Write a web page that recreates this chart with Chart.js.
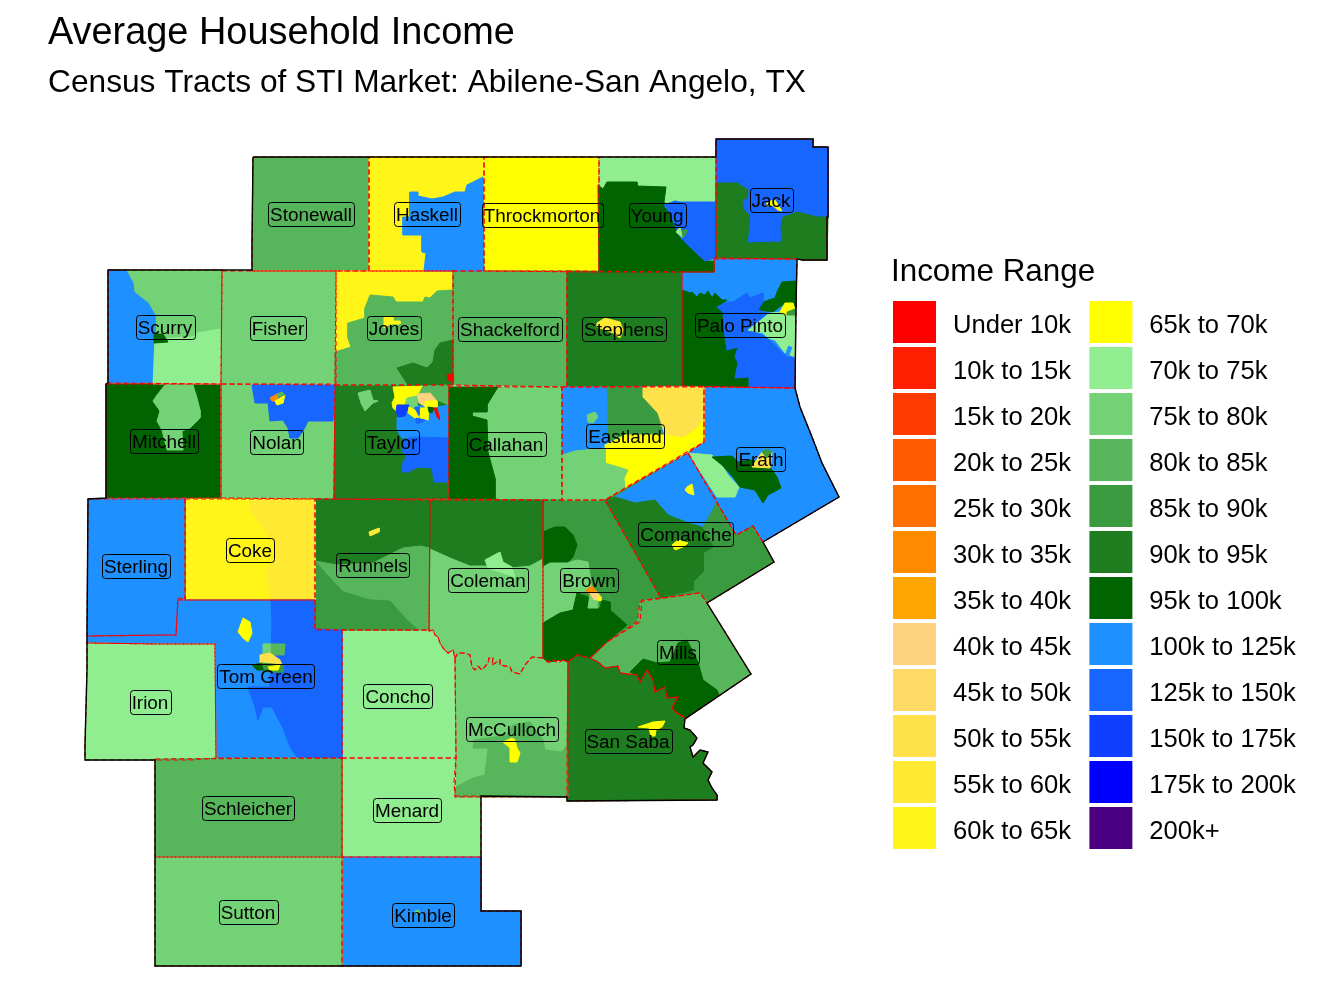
<!DOCTYPE html>
<html>
<head>
<meta charset="utf-8">
<title>Average Household Income</title>
<script src="https://cdn.jsdelivr.net/npm/chart.js@4"></script>
<style>
  html, body { margin: 0; background: #fff; }
  #wrap { position: relative; width: 1344px; height: 1008px; overflow: hidden; }
  #map { position: absolute; left: 0; top: 0; }
  #key { position: absolute; left: 891px; top: 250px; }
</style>
</head>
<body>
<div id="wrap">
  <canvas id="map" width="1344" height="1008"></canvas>
  <canvas id="key" width="900" height="611"></canvas>
</div>
<script>
// Income bands and their colours
const bands = ['Under 10k','10k to 15k','15k to 20k','20k to 25k','25k to 30k','30k to 35k','35k to 40k','40k to 45k','45k to 50k','50k to 55k','55k to 60k','60k to 65k','65k to 70k','70k to 75k','75k to 80k','80k to 85k','85k to 90k','90k to 95k','95k to 100k','100k to 125k','125k to 150k','150k to 175k','175k to 200k','200k+'];
const bandColors = ['#FF0000','#FF2000','#FF3A00','#FF5A00','#FF7000','#FF8A00','#FFA500','#FFD27F','#FFD966','#FFE14C','#FFE933','#FFF519','#FFFF00','#90EE90','#73D275','#57B65B','#3A9A40','#1E7D1E','#006400','#1E90FF','#1766FF','#0F40FF','#0000FF','#4B0082'];

// County labels, map units
const countyNames = ['Stonewall','Haskell','Throckmorton','Young','Jack','Scurry','Fisher','Jones','Shackelford','Stephens','Palo Pinto','Mitchell','Nolan','Taylor','Callahan','Eastland','Erath','Comanche','Sterling','Coke','Runnels','Coleman','Brown','Tom Green','Irion','Concho','McCulloch','Mills','San Saba','Schleicher','Menard','Sutton','Kimble'];
const labelX = [311,427,542,657,771,165,278,394,510,624,740,164,277,392,506,625,761,686,136,250,373,488,589,266,150,398,512,678,628,248,407,248,423];
const labelY = [214,214,215,215,200,327,328,328,329,329,325,441,442,442,444,436,459,534,566,550,565,580,580,676,702,696,729,652,741,808,810,912,915];

// shared wiggly river edges
const conchoEdge = [429,631,433,630,435,635,438,637,440,643,443,648,448,653,453,650,455,658];
const mccullochEdge = [455,658,458,653,465,653,470,655,472,667,475,670,478,666,482,670,488,663,489,658,493,658,492,665,500,660,500,665,510,667,512,672,520,674,525,665,532,657,543,658];
const sabaEdge = [590,658,598,662,605,668,618,666,620,673,637,675,640,682,647,670,653,680,655,692,665,687,667,698,678,697,672,708,677,713,684,717];

function backwards(flat){
  const out = [];
  for(let i = flat.length - 2; i >= 0; i -= 2) out.push(flat[i], flat[i+1]);
  return out;
}

// Tract shapes per county: first one is the county itself, the rest sit on top
const stonewallTracts = [['80k to 85k',[253,157,369,157,369,271,252,271,252,244]]];
const haskellTracts = [
  ['60k to 65k',[369,157,484,157,484,271,369,271]],
  ['100k to 125k',[483,177,467,185,465,192,455,192,443,197,432,199,418,196,418,192,410,192,410,217,403,217,403,235,422,235,422,252,426,253,424,271,484,271]]
];
const throckmortonTracts = [['65k to 70k',[484,157,599,157,599,272,484,271]]];
const youngTracts = [
  ['70k to 75k',[599,157,716,157,716,258,714,258,714,272,599,272]],
  ['95k to 100k',[598,185,603,189,607,182,637,182,637,186,666,187,664,202,664,207,670,213,676,228,681,238,690,247,705,261,714,261,714,272,599,272]],
  ['125k to 150k',[664,205,675,201,680,202,716,202,716,258,705,261,690,247,681,238,676,228,670,213]],
  ['70k to 75k',[676,232,680,227,683,238]],
  ['85k to 90k',[682,230,688,230,683,238]]
];
const jackTracts = [
  ['125k to 150k',[716,139,813,139,813,147,828,147,828,217,827,217,827,260,803,260,797,259,716,258]],
  ['90k to 95k',[716,183,737,183,748,190,747,198,742,200,744,210,749,215,749,227,747,243,782,242,781,227,783,217,798,212,817,217,828,217,827,260,803,260,797,259,716,258]],
  ['65k to 70k',[767,202,775,200,782,211,778,210,772,205,767,206]]
];
const scurryTracts = [
  ['75k to 80k',[108,270,222,270,221,384,108,383]],
  ['100k to 125k',[108,270,126,270,133,283,134,292,148,303,155,315,155,338,153,357,153,383,108,383]],
  ['70k to 75k',[155,339,193,337,197,333,220,329,221,384,153,384]],
  ['95k to 100k',[154,334,163,334,168,342,154,343]]
];
const fisherTracts = [['75k to 80k',[222,271,336,271,336,384,221,384]]];
const jonesTracts = [
  ['60k to 65k',[336,271,453,271,453,385,335,385]],
  ['80k to 85k',[453,290,437,291,430,298,425,297,423,302,396,302,393,297,370,295,365,308,365,318,348,323,348,338,351,347,335,352,335,385,453,385]],
  ['90k to 95k',[453,340,440,343,435,350,433,362,427,368,413,363,397,368,408,385,453,385]],
  ['Under 10k',[447,374,453,375,453,381,448,380]],
  ['60k to 65k',[384,317,393,317,393,321,400,321,400,324,390,324,384,328]]
];
const shackelfordTracts = [['80k to 85k',[453,271,567,271,567,387,453,385]]];
const stephensTracts = [
  ['90k to 95k',[567,271,682,272,682,386,567,387]],
  ['55k to 60k',[597,323,605,318,620,322,623,330,620,338,613,333,597,327]]
];
const paloPintoTracts = [
  ['100k to 125k',[714,259,797,259,796,307,795,388,682,386,682,272,714,272]],
  ['95k to 100k',[682,290,690,293,692,292,697,297,700,293,705,295,708,291,712,298,715,293,722,300,727,300,717,307,723,312,725,337,727,350,738,347,735,357,738,363,735,378,749,377,749,387,682,386]],
  ['95k to 100k',[796,281,782,282,777,292,775,298,763,302,758,310,773,312,782,305,796,307]],
  ['125k to 150k',[717,307,727,302,733,302,747,293,750,298,763,293,763,302,758,310,767,313,750,330,767,338,787,357,794,357,795,388,749,387,749,377,735,378,738,363,735,357,738,347,727,350,725,337,723,312]],
  ['70k to 75k',[748,330,770,313,782,312,795,313,795,357,790,355,793,347,788,345,785,353,775,340,768,338,763,333]],
  ['65k to 70k',[780,312,785,303,793,303,795,310,787,312,787,315]],
  ['85k to 90k',[787,312,795,309,795,315,787,315]]
];
const mitchellTracts = [
  ['95k to 100k',[106,384,221,384,221,498,106,498]],
  ['75k to 80k',[165,385,193,385,197,398,200,410,200,418,190,428,182,431,183,450,167,450,162,430,157,421,160,411,153,401,157,395]]
];
const nolanTracts = [
  ['75k to 80k',[221,384,335,385,334,499,221,498]],
  ['125k to 150k',[252,385,335,385,333,421,308,421,303,431,298,438,290,438,288,428,283,420,270,421,268,403,255,403]],
  ['30k to 35k',[270,398,277,394,278,401,272,401]],
  ['65k to 70k',[275,401,285,395,283,403,277,405]],
  ['80k to 85k',[277,394,282,392,285,395,278,397]]
];
const taylorTracts = [
  ['90k to 95k',[335,385,449,385,449,499,334,499]],
  ['75k to 80k',[358,393,370,390,373,400,378,401,373,403,365,411,361,403]],
  ['100k to 125k',[408,405,437,407,449,405,449,438,415,437,402,438,397,430,397,418]],
  ['125k to 150k',[449,438,449,482,434,482,432,468,418,467,408,472,402,472,403,462,407,457,403,453,402,440,415,437]],
  ['80k to 85k',[422,386,449,385,449,405,437,400,430,393,417,394]],
  ['65k to 70k',[393,387,422,386,417,396,410,398,407,405,398,404,397,412,393,408,392,403,395,397]],
  ['75k to 80k',[407,398,417,396,417,408,410,408,405,405]],
  ['40k to 45k',[417,394,430,393,437,401,428,401,427,407,419,403]],
  ['65k to 70k',[425,401,437,401,437,407,428,407,428,420,420,418,420,408,425,408]],
  ['150k to 175k',[397,405,409,405,405,416,398,417,396,411]],
  ['125k to 150k',[415,407,419,407,419,415,415,415]],
  ['65k to 70k',[409,407,415,410,419,418,415,418,408,413]],
  ['Under 10k',[434,408,437,408,440,420,437,417]],
  ['95k to 100k',[428,407,434,408,432,413,429,412]],
  ['125k to 150k',[416,418,425,420,420,423,416,423]]
];
const callahanTracts = [
  ['75k to 80k',[449,387,562,387,562,500,449,499]],
  ['95k to 100k',[449,387,498,387,493,395,487,405,487,412,472,412,472,416,487,420,488,452,495,478,495,499,449,499]]
];
const eastlandTracts = [
  ['100k to 125k',[562,387,704,387,704,442,625,488,605,500,562,500]],
  ['85k to 90k',[607,387,643,387,643,397,658,413,663,437,608,440,608,403]],
  ['50k to 55k',[643,387,704,387,704,420,695,430,683,438,665,435,658,413,643,397]],
  ['65k to 70k',[704,420,704,442,625,488,624,478,628,470,605,463,605,445,625,435,665,435,683,438,695,430]],
  ['75k to 80k',[562,455,575,451,605,448,605,463,628,470,624,478,625,488,605,500,562,500]],
  ['75k to 80k',[587,415,595,412,598,417,593,423,588,422]]
];
const erathTracts = [
  ['100k to 125k',[704,387,795,388,800,407,812,437,822,463,839,497,763,542,753,526,736,535,688,453,704,442]],
  ['70k to 75k',[688,453,712,455,722,465,728,475,739,487,735,497,717,497]],
  ['95k to 100k',[712,457,732,456,738,462,752,460,770,467,777,477,781,488,768,495,763,503,755,490,740,487,733,477,722,465]],
  ['50k to 55k',[752,467,762,452,772,452,770,468]],
  ['85k to 90k',[762,452,767,449,772,452,767,458]]
];
const comancheTracts = [
  ['85k to 90k',[688,453,736,535,753,526,763,542,774,562,707,603,700,593,661,598,605,500]],
  ['100k to 125k',[688,453,615,497,635,503,655,500,668,515,688,522,702,527,710,513,716,502]],
  ['90k to 95k',[605,500,615,497,635,503,655,500,668,515,688,523,702,527,713,547,703,553,703,572,693,582,693,590,661,598]],
  ['65k to 70k',[672,545,678,540,688,543,683,547,675,550]],
  ['65k to 70k',[687,487,692,484,694,495,688,493,685,490]]
];
const millsTracts = [
  ['80k to 85k',[640,602,642,601,700,593,707,603,751,674,685,719,...backwards(sabaEdge),607,642,637,622]],
  ['95k to 100k',[630,672,643,659,657,663,670,662,678,643,687,640,698,662,703,680,717,690,719,695,685,719,684,717,677,713,672,708,678,697,667,698,665,687,655,692,653,680,647,670,640,682,637,675]]
];
const sanSabaTracts = [
  ['90k to 95k',[568,662,577,655,...sabaEdge,684,728,690,730,697,738,693,745,690,747,693,757,700,750,708,752,703,763,712,772,708,780,712,788,717,795,717,800,567,801,567,768]],
  ['65k to 70k',[638,727,653,722,665,721,662,727,656,730,655,736,651,736,649,728]]
];
const brownTracts = [
  ['85k to 90k',[543,500,605,500,661,598,642,600,640,622,607,642,590,658,577,655,568,662,563,660,548,662,543,658]],
  ['95k to 100k',[543,532,555,527,565,527,573,535,577,545,573,557,567,563,558,563,550,563,543,567]],
  ['75k to 80k',[543,567,550,563,567,563,577,560,588,562,590,575,592,590,577,593,573,610,560,613,543,623]],
  ['95k to 100k',[543,623,560,613,573,610,577,593,588,597,588,608,600,608,602,600,610,602,610,610,627,625,607,642,590,658,577,655,568,662,563,660,548,662,543,658]],
  ['75k to 80k',[590,595,597,597,598,608,588,608]],
  ['30k to 35k',[586,590,592,586,597,592,590,595]],
  ['40k to 45k',[590,593,597,592,602,598,594,600]],
  ['65k to 70k',[597,595,602,600,598,601]]
];
const colemanTracts = [
  ['75k to 80k',[430,500,543,500,...backwards(mccullochEdge),...backwards(conchoEdge)]],
  ['90k to 95k',[430,500,543,500,543,558,530,565,510,567,485,565,470,565,450,557,430,548]],
  ['70k to 75k',[485,560,500,552,503,562,512,567,515,577,488,568]]
];
const runnelsTracts = [
  ['90k to 95k',[315,499,430,500,429,630,315,630]],
  ['80k to 85k',[315,561,337,565,373,563,403,548,420,546,430,548,429,630,315,630]],
  ['85k to 90k',[315,561,327,575,343,592,370,600,390,601,398,610,407,620,418,630,315,630]],
  ['55k to 60k',[369,532,379,528,379,532,370,536]]
];
const cokeTracts = [
  ['60k to 65k',[185,499,315,499,315,600,185,600]],
  ['55k to 60k',[250,499,315,499,315,600,271,600,267,573,277,550,263,527,250,510]]
];
const sterlingTracts = [['100k to 125k',[88,499,185,499,185,600,178,600,176,635,157,635,90,636,87,636]]];
const tomGreenTracts = [
  ['100k to 125k',[178,598,185,600,315,600,315,629,342,630,342,758,216,758,215,644,160,644,87,643,87,636,176,635]],
  ['125k to 150k',[271,600,315,600,315,629,342,630,342,758,297,757,290,747,283,728,272,707,263,707,258,720,255,707,248,687,270,687,272,623]],
  ['65k to 70k',[243,618,250,622,252,633,248,642,243,638,238,632]],
  ['80k to 85k',[263,644,285,644,284,655,270,655]],
  ['75k to 80k',[263,644,270,644,270,655,263,655]],
  ['50k to 55k',[260,655,270,653,280,660,282,665,260,663]],
  ['95k to 100k',[252,665,262,663,267,670,257,670]],
  ['85k to 90k',[262,663,283,665,283,672,265,672]],
  ['65k to 70k',[268,667,280,665,278,670,270,670]]
];
const irionTracts = [['70k to 75k',[87,643,160,644,215,644,216,758,190,760,125,760,85,760,85,745,87,670]]];
const conchoTracts = [['70k to 75k',[342,630,429,630,...conchoEdge,456,758,342,758]]];
const mccullochTracts = [
  ['75k to 80k',[...mccullochEdge,548,662,553,660,558,663,563,660,568,662,568,797,455,797,454,782,456,758]],
  ['80k to 85k',[456,787,473,778,485,775,487,757,488,748,473,748,474,740,507,735,513,725,530,722,543,740,545,750,562,752,567,745,568,797,455,797]],
  ['65k to 70k',[503,742,512,738,515,740,517,748,520,753,517,762,510,762,510,748]]
];
const menardTracts = [['70k to 75k',[342,758,456,758,455,796,481,796,481,857,342,857]]];
const kimbleTracts = [
  ['100k to 125k',[342,857,481,857,481,911,521,911,521,966,342,966]],
  ['75k to 80k',[415,911,418,910,420,913,416,914]]
];
const schleicherTracts = [['80k to 85k',[155,759,342,758,342,857,155,857]]];
const suttonTracts = [['75k to 80k',[155,857,342,857,342,966,155,966]]];

// Outer edge of the market
const marketEdge = [253,157,716,157,716,139,813,139,813,147,828,147,828,217,827,217,827,260,803,260,797,259,796,307,795,388,800,407,812,437,822,463,839,497,763,542,774,562,707,603,751,674,685,719,684,728,690,730,697,738,693,745,690,747,693,757,700,750,708,752,703,763,712,772,708,780,712,788,717,795,717,800,567,801,567,797,481,796,481,911,521,911,521,966,155,966,155,760,85,760,85,745,87,670,87,636,88,499,106,498,106,384,108,383,108,270,252,270,252,244,253,157];

const counties = [stonewallTracts,haskellTracts,throckmortonTracts,youngTracts,jackTracts,scurryTracts,fisherTracts,jonesTracts,shackelfordTracts,stephensTracts,paloPintoTracts,mitchellTracts,nolanTracts,taylorTracts,callahanTracts,eastlandTracts,erathTracts,comancheTracts,brownTracts,colemanTracts,runnelsTracts,cokeTracts,sterlingTracts,tomGreenTracts,irionTracts,conchoTracts,mccullochTracts,millsTracts,sanSabaTracts,menardTracts,kimbleTracts,schleicherTracts,suttonTracts];

Chart.defaults.font.family = '"Liberation Sans", Arial, sans-serif';
Chart.defaults.color = '#000';

function toPoints(flat){
  const pts = [];
  for(let i = 0; i < flat.length; i += 2) pts.push({x: flat[i], y: flat[i+1]});
  pts.push({x: flat[0], y: flat[1]});
  return pts;
}

function fillSet(tract){
  const color = bandColors[bands.indexOf(tract[0])];
  return {
    data: toPoints(tract[1]),
    showLine: true,
    fill: 'shape',
    backgroundColor: color,
    borderColor: color,
    borderWidth: 1,
    pointRadius: 0,
    tension: 0
  };
}

function lineSet(flat, color, width, dash){
  return {
    data: toPoints(flat),
    showLine: true,
    fill: false,
    borderColor: color,
    borderWidth: width,
    borderDash: dash,
    pointRadius: 0,
    tension: 0
  };
}

const mapSets = [];
counties.forEach(c => mapSets.push(fillSet(c[0])));
counties.forEach(c => c.slice(1).forEach(t => mapSets.push(fillSet(t))));
counties.forEach(c => mapSets.push(lineSet(c[0][1], '#FF0000', 1.1, [5,3])));
mapSets.push(lineSet(marketEdge, '#000000', 1.4, []));
// chart.js paints the first dataset last
mapSets.reverse();

// County name boxes
const countyLabels = {
  id: 'countyLabels',
  afterDatasetsDraw(chart){
    const {ctx, scales} = chart;
    ctx.save();
    ctx.font = '18.9px "Liberation Sans", Arial, sans-serif';
    ctx.textAlign = 'center';
    ctx.textBaseline = 'middle';
    ctx.fillStyle = '#000';
    ctx.strokeStyle = '#000';
    ctx.lineWidth = 1;
    countyNames.forEach((name, i) => {
      const x = scales.x.getPixelForValue(labelX[i]);
      const y = scales.y.getPixelForValue(labelY[i]);
      const w = ctx.measureText(name).width + 4;
      ctx.fillText(name, x, y + 2);
      ctx.beginPath();
      ctx.roundRect(Math.round(x - w/2) + 0.5, Math.round(y - 12) + 0.5, Math.round(w), 24, 3);
      ctx.stroke();
    });
    ctx.restore();
  }
};

new Chart(document.getElementById('map'), {
  type: 'scatter',
  data: {datasets: mapSets},
  plugins: [countyLabels],
  options: {
    responsive: false,
    animation: false,
    events: [],
    layout: {padding: {left: 48, right: 400, bottom: 30}},
    scales: {
      x: {type: 'linear', display: false, min: 48, max: 944},
      y: {type: 'linear', display: false, min: 125, max: 978, reverse: true}
    },
    plugins: {
      legend: {display: false},
      tooltip: {enabled: false},
      title: {
        display: true,
        text: 'Average Household Income',
        align: 'start',
        color: '#000',
        font: {size: 37.9, weight: 'normal', lineHeight: 1.2},
        padding: {top: 11, bottom: 4}
      },
      subtitle: {
        display: true,
        text: 'Census Tracts of STI Market: Abilene-San Angelo, TX',
        align: 'start',
        color: '#000',
        font: {size: 31.7, weight: 'normal', lineHeight: 1.2},
        padding: {top: 3.5, bottom: 22.98}
      }
    }
  }
});

// Legend, two columns of twelve. The canvas runs off the page because a
// side legend only gets half the chart width.
const leadGap = '\u200a';
const columnGap = '\u00a0\u00a0\u200a';

// legend text sits a little below the middle of the swatch in the reference
const nudgeText = {
  id: 'nudgeText',
  beforeDraw(chart){
    const ctx = chart.ctx;
    const fillText = ctx.fillText.bind(ctx);
    ctx.fillText = (t, x, y, m) => fillText(t, x, y + 4, m);
  }
};

new Chart(document.getElementById('key'), {
  type: 'bar',
  data: {
    labels: [],
    datasets: bands.map((b, i) => ({
      label: leadGap + b + (i < 12 ? columnGap : ''),
      data: [],
      backgroundColor: bandColors[i],
      borderColor: '#fff',
      borderWidth: 4
    }))
  },
  plugins: [nudgeText],
  options: {
    responsive: false,
    animation: false,
    events: [],
    scales: {x: {display: false}, y: {display: false}},
    plugins: {
      tooltip: {enabled: false},
      legend: {
        position: 'left',
        align: 'start',
        title: {
          display: true,
          text: 'Income Range',
          position: 'start',
          color: '#000',
          font: {size: 31.4, lineHeight: 1.2},
          padding: {top: 3, bottom: 8.3}
        },
        labels: {
          boxWidth: 47,
          boxHeight: 46,
          padding: 0,
          color: '#000',
          font: {size: 25.6}
        }
      }
    }
  }
});
</script>
</body>
</html>
